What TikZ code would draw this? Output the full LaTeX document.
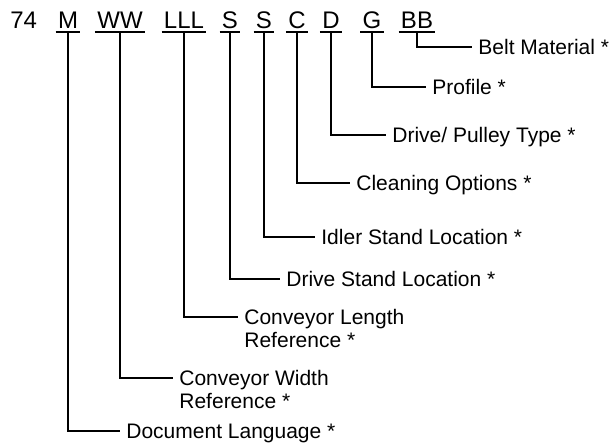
\documentclass[tikz,border=0pt]{standalone}
\usepackage{fontspec}
\setmainfont{Liberation Sans}
\usetikzlibrary{positioning}
\newcommand{\twolines}[2]{\vtop{\hbox{#1}\hbox{#2}}}

\begin{document}
\begin{tikzpicture}[
  x=0.5pt, y=-0.5pt,
  code/.style={anchor=base, inner xsep=1pt, inner ysep=0pt,
               font=\fontsize{12}{14}\selectfont},
  lbl/.style={anchor=west, inner xsep=3pt, inner ysep=0pt,
              text height=7.5pt, text depth=0pt,
              font=\fontsize{10.5}{11.5}\selectfont},
  uline/.style={line width=1.1pt},
  lead/.style={line width=0.6pt},
]
\useasboundingbox (0,0) rectangle (610,445);

% Code row
\node[code, anchor=base west] (num) at (8,28) {74};
\node[code] (m) at (68,28) {M};
\node[code] (ww) at (120,28) {WW};
\node[code] (lll) at (184,28) {LLL};
\node[code] (s1) at (230,28) {S};
\node[code] (s2) at (264,28) {S};
\node[code] (c) at (297,28) {C};
\node[code] (d) at (331,28) {D};
\node[code] (g) at (372,28) {G};
\node[code] (bb) at (417,28) {BB};

\foreach \n in {m,ww,lll,s1,s2,c,d,g,bb}
  \draw[uline] ([yshift=-2pt]\n.base west) -- ([yshift=-2pt]\n.base east);

% Labels
\node[lbl] (belt) at (472,47) {Belt Material *};
\node[lbl] (prof) at (426,87) {Profile *};
\node[lbl] (drv) at (386,135) {Drive/ Pulley Type *};
\node[lbl] (clean) at (350,183) {Cleaning Options *};
\node[lbl] (idler) at (315,237) {Idler Stand Location *};
\node[lbl] (dstand) at (280,279) {Drive Stand Location *};
\node[lbl] (len) at (238,317) {\twolines{Conveyor Length}{Reference *}};
\node[lbl] (wid) at (173,378) {\twolines{Conveyor Width}{Reference *}};
\node[lbl] (lang) at (120,431) {Document Language *};

% Leaders
\draw[lead] ([yshift=-2pt]bb.base) |- (belt.west);
\draw[lead] ([yshift=-2pt]g.base) |- (prof.west);
\draw[lead] ([yshift=-2pt]d.base) |- (drv.west);
\draw[lead] ([yshift=-2pt]c.base) |- (clean.west);
\draw[lead] ([yshift=-2pt]s2.base) |- (idler.west);
\draw[lead] ([yshift=-2pt]s1.base) |- (dstand.west);
\draw[lead] ([yshift=-2pt]lll.base) |- (len.west);
\draw[lead] ([yshift=-2pt]ww.base) |- (wid.west);
\draw[lead] ([yshift=-2pt]m.base) |- (lang.west);
\end{tikzpicture}
\end{document}
